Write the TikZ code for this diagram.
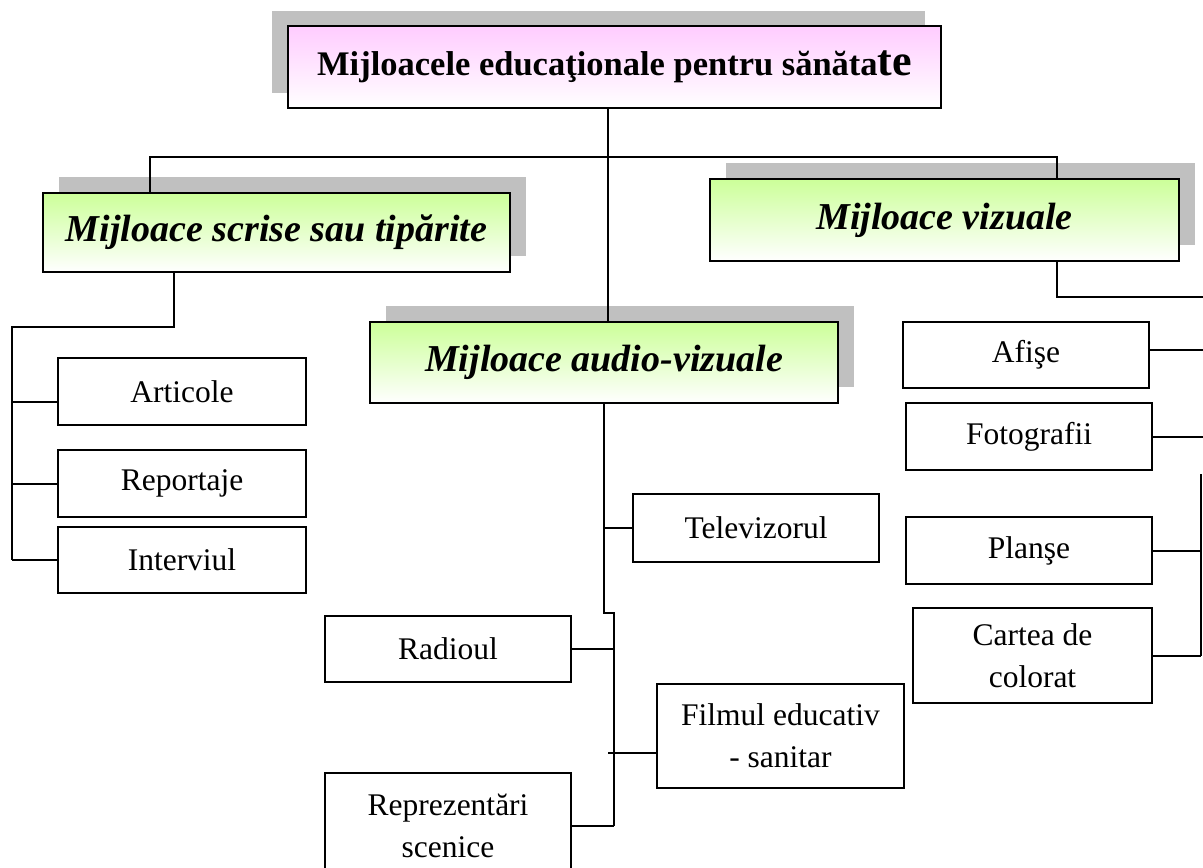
\documentclass[tikz,border=0pt]{standalone}
\usepackage{fontspec}
\setmainfont{Liberation Serif}
\usetikzlibrary{shadows}
\definecolor{shadowgray}{HTML}{C0C0C0}
\definecolor{lightpink}{HTML}{FFCCFF}
\definecolor{lightgreen}{HTML}{CCFF99}
\begin{document}
\begin{tikzpicture}[x=1pt,y=-1pt,line width=2pt,
    basebox/.style={draw,line width=2.2pt,inner sep=0pt,align=center},
    mainbox/.style={basebox,top color=lightpink,bottom color=white,
      general shadow={fill=shadowgray,shadow xshift=-16pt,shadow yshift=15pt},
      font=\fontsize{34.5}{40}\selectfont\bfseries},
    groupbox/.style={basebox,top color=lightgreen,bottom color=white,
      general shadow={fill=shadowgray,shadow xshift=16pt,shadow yshift=16pt},
      font=\fontsize{38}{44}\selectfont\bfseries\itshape},
    itembox/.style={basebox,fill=white,minimum width=246pt,
      font=\fontsize{31.5}{42}\selectfont}]
    \useasboundingbox (0,0) rectangle (1203,868);

    \node[mainbox,minimum width=653pt,minimum height=82pt] (top) at (614.5,67)
        {Mijloacele educaţionale pentru sănăta{\fontsize{44}{44}\selectfont te}};

    \node[groupbox,minimum width=467pt,minimum height=79pt] (scrise) at (276.5,232.5) {Mijloace scrise sau tipărite};
    \node[groupbox,minimum width=469pt,minimum height=82pt] (vizuale) at (944.5,220) {Mijloace vizuale};
    \node[groupbox,minimum width=468pt,minimum height=81pt] (audio) at (604,362.5) {Mijloace audio-vizuale};

    \node[itembox,minimum width=248pt,minimum height=67pt] (articole) at (182,391.5) {Articole};
    \node[itembox,minimum width=248pt,minimum height=67pt] (reportaje) at (182,483.5) {Reportaje};
    \node[itembox,minimum width=248pt,minimum height=66pt] (interviul) at (182,560) {Interviul};

    \node[itembox,minimum height=68pt] (televizorul) at (756,528) {Televizorul};
    \node[itembox,minimum height=66pt] (radioul) at (448,649) {Radioul};
    \node[itembox,minimum width=247pt,minimum height=104pt] (filmul) at (780.5,736) {Filmul educativ\\- sanitar};
    \node[itembox,minimum height=106pt] (reprez) at (448,826) {Reprezentări\\scenice};

    \node[itembox,minimum height=66pt] (afise) at (1026,355) {Afişe};
    \node[itembox,minimum height=67pt] (fotografii) at (1029,436.5) {Fotografii};
    \node[itembox,minimum height=67pt] (planse) at (1029,550.5) {Planşe};
    \node[itembox,minimum width=239pt,minimum height=95pt] (cartea) at (1032.5,655.5) {Cartea de\\colorat};

    \coordinate (hub) at (608,157);
    \coordinate (lbus) at (12,327);
    \coordinate (abus) at (614,613);
    \coordinate (rtop) at (1203,297);
    \coordinate (rbus) at (1201,474);

    \draw ([xshift=-126.5pt]scrise.north) |- (hub) -| ([xshift=112.5pt]vizuale.north);
    \draw (top.south -| hub) -- (hub |- audio.north);

    \draw ([xshift=-102.5pt]scrise.south) |- (lbus) -- (lbus |- interviul.west);
    \path ([yshift=-10pt]articole.west) coordinate (acon);
    \draw (acon) -- (acon -| lbus);
    \draw (reportaje.west) -- (reportaje.west -| lbus);
    \draw (interviul.west) -- (interviul.west -| lbus);

    \draw (audio.south) |- (abus) -- (abus |- reprez.east);
    \draw (televizorul.west) -- (televizorul.west -| audio.south);
    \draw (radioul.east) -- (radioul.east -| abus);
    \path ([yshift=-17pt]filmul.west) coordinate (fcon);
    \draw (fcon) -- ([xshift=-6pt]fcon -| abus);
    \draw (reprez.east) -- (reprez.east -| abus);

    \draw ([xshift=112.5pt]vizuale.south) |- (rtop);
    \path ([yshift=5pt]afise.east) coordinate (fcon);
    \draw (fcon) -- (fcon -| rtop);
    \draw (fotografii.east) -- (fotografii.east -| rtop);
    \draw (rbus) -- (rbus |- cartea.east);
    \draw (planse.east) -- (planse.east -| rbus);
    \draw (cartea.east) -- (cartea.east -| rbus);
\end{tikzpicture}
\end{document}
